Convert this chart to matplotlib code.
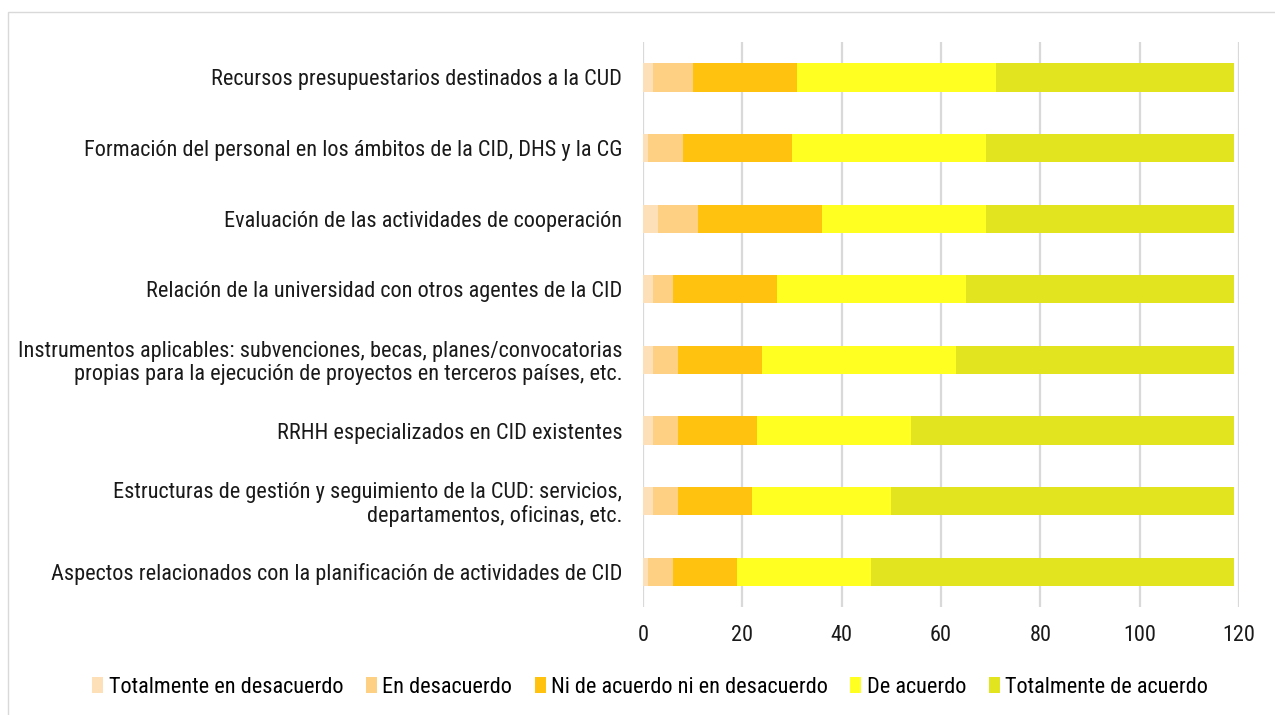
import matplotlib.pyplot as plt
from matplotlib.patches import Rectangle
import numpy as np

# Datos (de arriba abajo)
categorias = [
    'Recursos presupuestarios destinados a la CUD',
    'Formación del personal en los ámbitos de la CID, DHS y la CG',
    'Evaluación de las actividades de cooperación',
    'Relación de la universidad con otros agentes de la CID',
    'Instrumentos aplicables: subvenciones, becas, planes/convocatorias\npropias para la ejecución de proyectos en terceros países, etc.',
    'RRHH especializados en CID existentes',
    'Estructuras de gestión y seguimiento de la CUD: servicios,\ndepartamentos, oficinas, etc.',
    'Aspectos relacionados con la planificación de actividades de CID',
]
totalmente_desacuerdo = [2, 1, 3, 2, 2, 2, 2, 1]
en_desacuerdo = [8, 7, 8, 4, 5, 5, 5, 5]
ni_ni = [21, 22, 25, 21, 17, 16, 15, 13]
de_acuerdo = [40, 39, 33, 38, 39, 31, 28, 27]
totalmente_acuerdo = [48, 50, 50, 54, 56, 65, 69, 73]

series = ['Totalmente en desacuerdo', 'En desacuerdo', 'Ni de acuerdo ni en desacuerdo',
          'De acuerdo', 'Totalmente de acuerdo']
colores = ['#FDE0B8', '#FDD084', '#FFC20E', '#FFFF22', '#E1E41F']
valores = [totalmente_desacuerdo, en_desacuerdo, ni_ni, de_acuerdo, totalmente_acuerdo]

plt.rcParams['font.family'] = ['Roboto Condensed', 'DejaVu Sans']

fig = plt.figure(figsize=(12.75, 7.15), dpi=100)
ax = fig.add_axes([0.5043, 0.151, 0.4675, 0.790])

y = np.arange(len(categorias))
izq = np.zeros(len(categorias))
for nombre, vals, c in zip(series, valores, colores):
    ax.barh(y, vals, left=izq, height=0.4, color=c, label=nombre, zorder=3)
    izq += np.array(vals)

ax.set_yticks(y)
ax.set_yticklabels(categorias, fontsize=16, color='#1a1a1a', linespacing=1.12)
ax.set_ylim(len(categorias) - 0.5, -0.5)
ax.set_xlim(0, 120)
ax.set_xticks(np.arange(0, 121, 20))
ax.tick_params(axis='x', labelsize=16, colors='#1a1a1a', length=0, pad=13)
ax.tick_params(axis='y', length=0, pad=15)
ax.grid(axis='x', color='#D9D9D9', linewidth=1.6, zorder=0)
for s in ax.spines.values():
    s.set_visible(False)

fig.legend(loc='center', bbox_to_anchor=(0.51, 0.039), ncol=5, frameon=False,
           fontsize=16, handlelength=0.5, handleheight=0.7, handletextpad=0.25,
           columnspacing=1.0)

# marco exterior
fig.patches.append(Rectangle((8 / 1275, -0.01), 1.5, 1 - 12 / 715 + 0.01,
                             transform=fig.transFigure, fill=False,
                             edgecolor='#D9D9D9', linewidth=1))

fig.savefig('out.png', dpi=100)
